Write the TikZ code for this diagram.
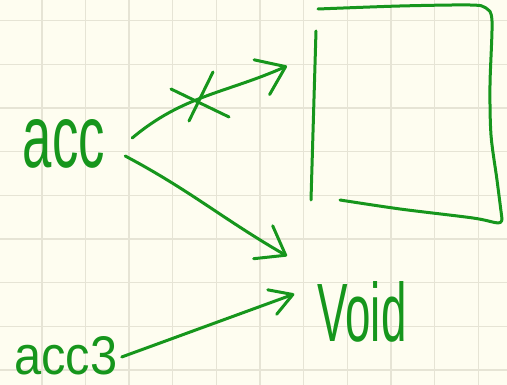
\documentclass[tikz,border=0pt]{standalone}
\usepackage{fontspec}
\setsansfont{Liberation Sans}
\usepackage{xcolor}
\usepackage{graphicx}
\usetikzlibrary{arrows.meta, positioning, calc}
\definecolor{paper}{RGB}{254,253,240}
\definecolor{gridgray}{RGB}{230,228,213}
\definecolor{ink}{RGB}{22,150,28}
\tikzset{
    pen/.style={draw=ink, line width=3pt, line cap=round, line join=round},
    hand_arrow/.style={pen, -{Straight Barb[length=26pt, width=38pt, round]}},
    small_arrow/.style={pen, -{Straight Barb[length=22pt, width=26pt, round]}},
    grid_line/.style={draw=gridgray, line width=1.6pt},
    every node/.style={text=ink, inner sep=0pt, font=\sffamily}
}

\begin{document}
\begin{tikzpicture}[x=1pt, y=1pt]
    % Paper
    \fill[paper] (0,0) rectangle (507,385);
    \useasboundingbox (0,0) rectangle (507,385);
    \foreach \gx in {0,...,10} \draw[grid_line] ({41.7+43.66*\gx},0) -- ++(0,385);
    \foreach \gy in {0,...,8} \draw[grid_line] (0,{364.3-43.66*\gy}) -- ++(507,0);
    % Labels
    \node (acc) at (64,241) {\resizebox{82pt}{48pt}{acc}};
    \node (acc3) at (66,29) {\resizebox{103pt}{38pt}{acc3}};
    \node (void) at (362,73) {\resizebox{89pt}{60pt}{Void}};
    \coordinate (box_in) at (287,319);
    \coordinate (gap_in) at (287,129);
    % Box
    \draw[pen] (316,354) -- (311,185);
    \draw[pen] plot[smooth, tension=0.5] coordinates {(318,376) (400,379) (470,380) (486,377) (492,364) (490,300) (491,250) (497,205) (502,166)};
    \draw[pen] plot[smooth, tension=0.5] coordinates {(502,166) (498,162) (473,167) (400,176) (340,185)};
    % Arrows
    \draw[hand_arrow] ([shift={(27,6)}]acc.east) to[out=40, in=204] (box_in);
    \draw[hand_arrow] ([shift={(20,-12)}]acc.east) to[out=-28, in=150] (gap_in);
    \draw[small_arrow] ([shift={(4,-1)}]acc3.east) -- ([shift={(-23,18)}]void.west);
    % Cross
    \draw[pen] (171,296) -- (229,268);
    \draw[pen] (213,313) -- (189,264);
\end{tikzpicture}
\end{document}
